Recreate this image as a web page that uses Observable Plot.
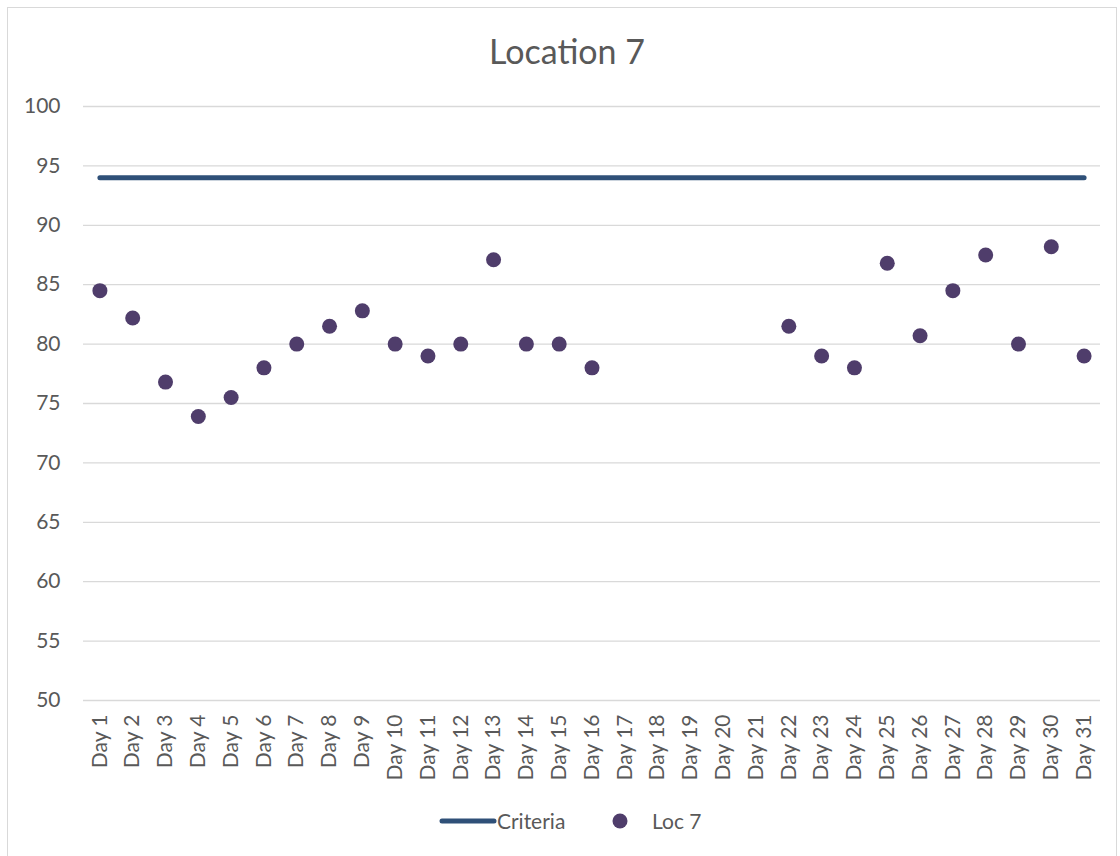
<!DOCTYPE html>
<html>
<head>
<meta charset="utf-8">
<script src="https://cdn.jsdelivr.net/npm/d3@7"></script>
<script src="https://cdn.jsdelivr.net/npm/@observablehq/plot@0.6"></script>
<style>
  body { margin: 0; background: #fff; font-family: Lato, "Open Sans", sans-serif; }
  #wrap { position: relative; width: 1120px; height: 856px; overflow: hidden; }
  #frame { position: absolute; left: 7px; top: 7px; width: 1110px; height: 860px; border: 1px solid #d9d9d9; box-sizing: border-box; }
  #title { position: absolute; left: 7px; width: 1120px; top: 30px; line-height: 42px; text-align: center; font-size: 34px; color: #595959; }
  #chart { position: absolute; left: 0; top: 0; }
  #legend { position: absolute; top: 807px; left: 0; width: 1120px; height: 28px; font-size: 21px; color: #595959; }
  .lg { position: absolute; top: 0; line-height: 28px; }
</style>
</head>
<body>
<div id="wrap">
  <div id="frame"></div>
  <div id="chart"></div>
  <div id="title">Location 7</div>
  <div id="legend">
    <svg class="lg" style="left:436px" width="64" height="28"><line x1="6" y1="14" x2="58" y2="14" stroke="#2F5078" stroke-width="5" stroke-linecap="round"/></svg>
    <span class="lg" style="left:497px">Criteria</span>
    <svg class="lg" style="left:610px" width="20" height="28"><circle cx="10" cy="14" r="7.5" fill="#4F3D6B"/></svg>
    <span class="lg" style="left:652px">Loc 7</span>
  </div>
</div>
<script>
const days = Array.from({length: 31}, (_, i) => `Day ${i + 1}`);
const loc7 = [84.5, 82.2, 76.8, 73.9, 75.5, 78.0, 80.0, 81.5, 82.8, 80.0,
              79.0, 80.0, 87.1, 80.0, 80.0, 78.0, null, null, null, null,
              null, 81.5, 79.0, 78.0, 86.8, 80.7, 84.5, 87.5, 80.0, 88.2, 79.0];
const criteria = days.map(() => 94);
const yTicks = [50, 55, 60, 65, 70, 75, 80, 85, 90, 95, 100];

const pts = days.map((d, i) => ({day: d, v: loc7[i]})).filter(d => d.v != null);
const crit = days.map((d, i) => ({day: d, v: criteria[i]}));

const chart = Plot.plot({
  width: 1120,
  height: 856,
  marginLeft: 83,
  marginRight: 20,
  marginTop: 106,
  marginBottom: 156,
  style: {fontFamily: "Lato, 'Open Sans', sans-serif", fontSize: "21px", color: "#595959", background: "transparent"},
  x: {type: "band", domain: days, padding: 0, round: false, label: null},
  y: {domain: [50, 100], label: null},
  marks: [
    Plot.gridY(yTicks, {stroke: "#d9d9d9", strokeOpacity: 1, strokeWidth: 1.3}),
    Plot.axisY({ticks: yTicks, tickSize: 0, tickPadding: 23, fontSize: 21, fill: "#595959"}),
    Plot.axisX({tickSize: 0, tickPadding: 14, tickRotate: -90, fontSize: 21, fill: "#595959"}),
    Plot.line(crit, {x: "day", y: "v", stroke: "#2F5078", strokeWidth: 5, strokeLinecap: "round"}),
    Plot.dot(pts, {x: "day", y: "v", r: 7.5, fill: "#4F3D6B", stroke: "none"})
  ]
});
document.getElementById("chart").appendChild(chart);
</script>
</body>
</html>
